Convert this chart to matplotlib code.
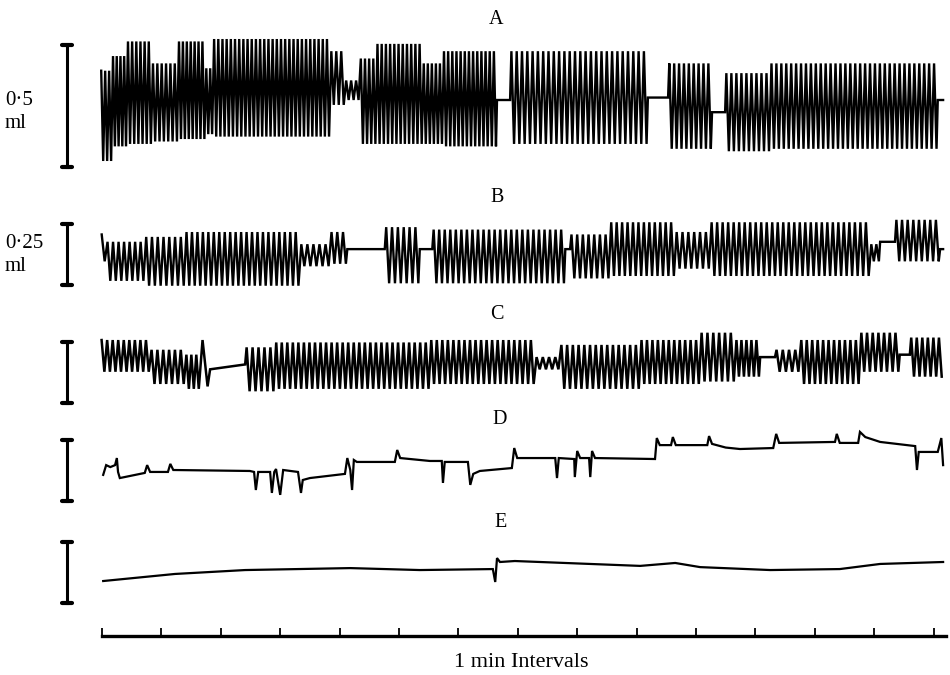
import matplotlib.pyplot as plt
import numpy as np

plt.rcParams['font.family'] = ['Liberation Serif', 'DejaVu Serif']

# chart scale of the record: pixels per minute and per ml
PX_MIN = 59.4
PX_ML = 244.0
X0 = 102   # pixel column of t = 0

# breathing traces A-C, read as runs of breaths:
# run edges (min), peak level (ml), trough level (ml), number of breaths in run
# a run with 0 breaths is a plain line from peak level to trough level
a_edges = [-0.03, 0.17, 0.42, 0.84, 1.28, 1.74, 1.87, 3.84, 4.09, 4.34,
           4.62, 5.40, 5.74, 6.65, 6.87, 9.19, 9.53, 10.27, 10.49, 11.25,
           14.07, 14.16]
a_top = [0.12, 0.18, 0.24, 0.15, 0.24, 0.13, 0.25, 0.20, 0.08, 0.17,
         0.23, 0.15, 0.20, 0.00, 0.20, 0.01, 0.15, -0.05, 0.11, 0.15, 0.00]
a_bot = [-0.25, -0.19, -0.18, -0.17, -0.16, -0.14, -0.15, -0.02, 0.00, -0.18,
         -0.18, -0.18, -0.19, 0.00, -0.18, 0.01, -0.20, -0.05, -0.21, -0.20,
         0.00]
a_n = [3, 4, 6, 6, 7, 2, 28, 3, 3, 4, 11, 5, 13, 0, 26, 0, 9, 0, 9, 34, 0]

b_edges = [-0.03, 0.07, 0.72, 1.40, 3.33, 3.84, 4.13, 4.76, 5.35, 5.56,
           7.80, 7.88, 8.55, 9.65, 10.24, 12.93, 13.10, 13.35, 14.11, 14.16]
b_top = [0.08, 0.05, 0.07, 0.09, 0.04, 0.09, 0.02, 0.11, 0.02, 0.10,
         0.02, 0.08, 0.13, 0.09, 0.13, 0.04, 0.05, 0.14, 0.02]
b_bot = [-0.03, -0.11, -0.13, -0.13, -0.05, -0.04, 0.02, -0.12, 0.02, -0.12,
         0.02, -0.10, -0.09, -0.06, -0.09, -0.03, 0.05, -0.03, 0.02]
b_n = [1, 7, 7, 21, 5, 3, 0, 6, 0, 24, 0, 7, 12, 6, 29, 2, 0, 8, 0]

c_edges = [-0.03, 0.81, 1.40, 1.65, 1.82, 2.41, 2.91, 5.52, 7.29, 7.71,
           9.06, 10.07, 10.66, 11.08, 11.33, 11.75, 12.76, 13.43, 13.60, 14.16]
c_top = [0.09, 0.05, 0.03, 0.09, -0.03, 0.06, 0.08, 0.09, 0.02, 0.07,
         0.09, 0.12, 0.09, 0.02, 0.05, 0.09, 0.12, 0.03, 0.10]
c_bot = [-0.04, -0.09, -0.11, -0.10, -0.01, -0.12, -0.11, -0.09, -0.03, -0.11,
         -0.09, -0.08, -0.06, 0.02, -0.04, -0.09, -0.04, 0.03, -0.06]
c_n = [9, 6, 3, 1, 0, 5, 28, 19, 4, 14, 11, 6, 5, 0, 4, 11, 7, 0, 6]

# traces D and E, read point by point (min, ml)
d_t = [0.02, 0.07, 0.14, 0.22, 0.25, 0.27, 0.30, 0.72, 0.76, 0.81, 1.11, 1.15,
       1.20, 2.49, 2.56, 2.59, 2.63, 2.83, 2.86, 2.90, 2.93, 3.00, 3.05, 3.30,
       3.35, 3.38, 3.50, 4.09, 4.13, 4.18, 4.21, 4.24, 4.29, 4.93, 4.97, 5.02,
       5.52, 5.72, 5.74, 5.77, 6.16, 6.20, 6.25, 6.36, 6.90, 6.94, 6.99, 7.63,
       7.66, 7.69, 7.95, 7.96, 8.00, 8.05, 8.20, 8.22, 8.25, 8.30, 9.31, 9.34,
       9.39, 9.58, 9.61, 9.66, 10.19, 10.22, 10.27, 10.50, 10.74, 11.30, 11.35,
       11.40, 12.34, 12.37, 12.42, 12.73, 12.76, 12.85, 13.10, 13.69, 13.72,
       13.75, 14.07, 14.13, 14.16]
d_v = [-0.020, 0.020, 0.012, 0.020, 0.049, -0.008, -0.033, -0.012, 0.020,
       -0.008, -0.008, 0.025, 0.000, -0.004, -0.008, -0.082, -0.008, -0.008,
       -0.094, -0.008, 0.004, -0.102, 0.000, -0.008, -0.094, -0.041, -0.033,
       -0.016, 0.049, 0.000, -0.082, 0.041, 0.033, 0.033, 0.082, 0.049, 0.037,
       0.037, -0.053, 0.033, 0.033, -0.061, -0.016, -0.004, 0.008, 0.090,
       0.049, 0.049, -0.033, 0.049, 0.045, -0.029, 0.078, 0.049, 0.049,
       -0.029, 0.078, 0.049, 0.045, 0.131, 0.102, 0.102, 0.135, 0.102, 0.102,
       0.139, 0.107, 0.092, 0.086, 0.090, 0.148, 0.111, 0.115, 0.148, 0.111,
       0.111, 0.156, 0.135, 0.115, 0.098, 0.000, 0.074, 0.074, 0.131, 0.020]

e_t = [0.02, 1.23, 2.41, 4.18, 5.35, 6.58, 6.62, 6.65, 6.70, 6.95, 9.06,
       9.65, 10.07, 11.25, 12.42, 13.10, 14.16]
e_v = [-0.037, -0.008, 0.008, 0.016, 0.008, 0.012, -0.041, 0.057, 0.041,
       0.045, 0.025, 0.037, 0.020, 0.008, 0.012, 0.033, 0.041]

trace_names = ['A', 'B', 'C', 'D', 'E']
bar_ml = [0.5, 0.25, 0.25, 0.25, 0.25]
bar_text = ['0\u00b75\nml', '0\u00b725\nml', '', '', '']
minute_ticks = np.arange(0, 15)


def px(p):
    return (p - X0) / PX_MIN


def py(p):
    return -p / PX_ML


def breath_trace(edges, tops, bots, counts):
    t, v = [], []
    for k in range(len(counts)):
        t0, t1, n = edges[k], edges[k + 1], counts[k]
        if n == 0:
            t += [t0, t1]
            v += [tops[k], bots[k]]
            continue
        step = (t1 - t0) / (2 * n)
        for j in range(2 * n):
            t.append(t0 + (j + 0.5) * step)
            v.append(tops[k] if j % 2 == 0 else bots[k])
    return np.array(t), np.array(v)


fig = plt.figure(figsize=(9.5, 6.75), dpi=100)
ax = fig.add_axes([0, 0, 1, 1])
ax.set_xlim(px(0), px(950))
ax.set_ylim(py(675), py(0))

# layout: trace midlines, scale-bar centres, letter positions (pixels)
trace_mid = [100, 254, 362, 470, 572]
bar_mid = [106, 254, 372, 470, 572]
letter_xy = [(496, 19), (497, 197), (497, 314), (500, 419), (501, 522)]

traces = [breath_trace(a_edges, a_top, a_bot, a_n),
          breath_trace(b_edges, b_top, b_bot, b_n),
          breath_trace(c_edges, c_top, c_bot, c_n),
          (np.array(d_t), np.array(d_v)),
          (np.array(e_t), np.array(e_v))]
widths = [1.7, 1.7, 1.8, 1.6, 1.6]

for i, (t, v) in enumerate(traces):
    ax.plot(t, py(trace_mid[i]) + v, color='black', lw=widths[i],
            solid_joinstyle='miter')

    # scale bar
    xb = px(67)
    y0 = py(bar_mid[i]) - bar_ml[i] / 2
    y1 = py(bar_mid[i]) + bar_ml[i] / 2
    ax.plot([xb, xb], [y0, y1], color='black', lw=2.2)
    for yc in (y0, y1):
        ax.plot([xb - 5 / PX_MIN, xb + 5 / PX_MIN], [yc, yc], color='black',
                lw=3, solid_capstyle='round')
    if bar_text[i]:
        ax.text(px(5), py(bar_mid[i] + 6 if i == 0 else bar_mid[i] + 1),
                bar_text[i], ha='left', va='center', fontsize=15,
                linespacing=1.3)

    lx, ly = letter_xy[i]
    ax.text(px(lx), py(ly), trace_names[i], ha='center', va='center',
            fontsize=14.5)

# time base with 1 min marks
for s in ['top', 'left', 'right']:
    ax.spines[s].set_visible(False)
ax.spines['bottom'].set_position(('data', py(636)))
ax.spines['bottom'].set_bounds(0, px(946))
ax.spines['bottom'].set_linewidth(2.4)
ax.set_xticks(minute_ticks)
ax.tick_params(axis='x', direction='in', length=6, width=1.3,
               labelbottom=False)
ax.set_yticks([])
ax.text(px(521), py(662), '1 min Intervals', ha='center', va='center',
        fontsize=16)

fig.savefig('out.png', dpi=100)
